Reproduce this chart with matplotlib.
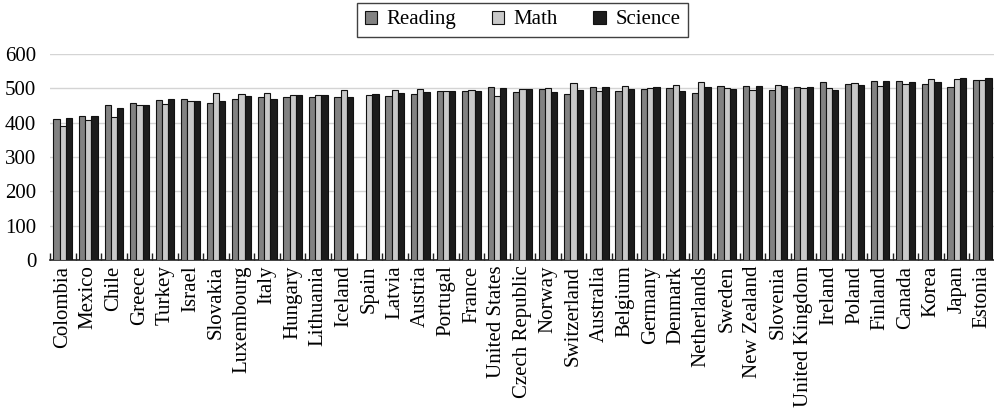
import numpy as np
import matplotlib
matplotlib.use("Agg")
import matplotlib.pyplot as plt
from matplotlib.ticker import FixedLocator, NullFormatter

countries = ["Colombia", "Mexico", "Chile", "Greece", "Turkey", "Israel", "Slovakia",
             "Luxembourg", "Italy", "Hungary", "Lithuania", "Iceland", "Spain", "Latvia",
             "Austria", "Portugal", "France", "United States", "Czech Republic", "Norway",
             "Switzerland", "Australia", "Belgium", "Germany", "Denmark", "Netherlands",
             "Sweden", "New Zealand", "Slovenia", "United Kingdom", "Ireland", "Poland",
             "Finland", "Canada", "Korea", "Japan", "Estonia"]

reading = [412, 420, 452, 457, 466, 470, 458, 470, 476, 476, 476, 474, np.nan, 479,
           484, 492, 493, 505, 490, 499, 484, 503, 493, 498, 501, 485, 506, 506, 495,
           504, 518, 512, 520, 520, 514, 504, 523]
math = [391, 409, 417, 451, 454, 463, 486, 483, 487, 481, 481, 495, 481, 496,
        499, 492, 495, 478, 499, 501, 515, 491, 508, 500, 509, 519, 502, 494, 509,
        502, 500, 516, 507, 512, 526, 527, 523]
science = [413, 419, 444, 452, 468, 462, 464, 477, 468, 481, 482, 475, 483, 487,
           490, 492, 493, 502, 497, 490, 495, 503, 499, 503, 493, 503, 499, 508, 507,
           505, 496, 511, 522, 518, 519, 529, 530]

series = [("Reading", reading, "#828282"),
          ("Math", math, "#c9c9c9"),
          ("Science", science, "#1c1c1c")]

plt.rcParams["font.family"] = ["Liberation Serif", "DejaVu Serif"]

fig = plt.figure(figsize=(9.95, 4.15), dpi=100)
ax = fig.add_axes([0.0503, 0.3735, 0.9497, 0.4964])

x = np.arange(len(countries))
w = 0.245
for i, (name, vals, col) in enumerate(series):
    ax.bar(x + (i - 1) * w, vals, width=w, color=col, edgecolor="#111111",
           linewidth=0.8, label=name, zorder=3)

ax.set_xlim(-0.5, len(countries) - 0.5)
ax.set_ylim(0, 600)
ax.set_yticks(range(0, 601, 100))
ax.yaxis.grid(True, color="#d4d4d4", linewidth=1.0, zorder=0)
ax.set_axisbelow(True)

ax.set_xticks(x)
ax.set_xticklabels(countries, rotation=90, fontsize=15)
ax.tick_params(axis="x", which="major", length=0, pad=4)
ax.xaxis.set_minor_locator(FixedLocator(np.arange(-0.5, len(countries), 1.0)))
ax.xaxis.set_minor_formatter(NullFormatter())
ax.tick_params(axis="x", which="minor", direction="in", length=5, width=1.0, color="#222222")
ax.tick_params(axis="y", length=0, labelsize=15, pad=10)

for s in ["top", "right", "left"]:
    ax.spines[s].set_visible(False)
ax.spines["bottom"].set_color("#222222")
ax.spines["bottom"].set_linewidth(1.2)

leg = ax.legend(loc="lower center", bbox_to_anchor=(0.5, 1.03), ncol=3,
                frameon=True, fancybox=False, fontsize=15, handlelength=0.6,
                handleheight=0.6, handletextpad=0.45, columnspacing=1.7,
                borderpad=0.38, edgecolor="#111111")
leg.get_frame().set_linewidth(1.0)

fig.savefig("out.png", dpi=100)
